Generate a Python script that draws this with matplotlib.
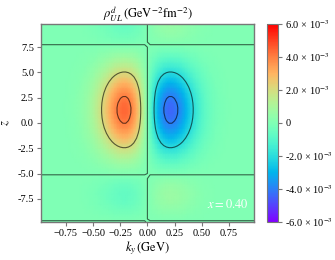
import matplotlib
matplotlib.use("Agg")
import matplotlib.pyplot as plt
import numpy as np
from matplotlib.ticker import FuncFormatter

plt.rcParams["font.family"] = ["Liberation Serif", "DejaVu Serif"]
plt.rcParams["mathtext.fontset"] = "stix"

# k_y grid (GeV), positive half; the profile is odd in k_y
ky_half = np.linspace(0.0, 1.0, 41)
ky_profile = [0.0, 0.193, 0.378, 0.548, 0.696, 0.817, 0.908, 0.968, 0.997, 0.996,
              0.970, 0.923, 0.858, 0.781, 0.697, 0.611, 0.526, 0.444, 0.369, 0.301,
              0.242, 0.191, 0.148, 0.114, 0.086, 0.063, 0.046, 0.033, 0.024, 0.016,
              0.011, 0.0075, 0.0051, 0.0034, 0.0021, 0.0014, 0.0009, 0.0006, 0.0003,
              0.0002, 0.0001]

# z grid and profile along z
z_vals = np.linspace(-10.0, 10.0, 41)
z_profile = [0.03, -0.015, -0.05, -0.085, -0.12, -0.14, -0.145, -0.13, -0.10, -0.05,
             0.017, 0.0815, 0.158, 0.244, 0.341, 0.444, 0.550, 0.656, 0.755, 0.844,
             0.916, 0.967, 0.995, 0.998, 0.975, 0.928, 0.860, 0.774, 0.676, 0.572,
             0.465, 0.361, 0.263, 0.174, 0.096, 0.029, -0.03, -0.07, -0.10, -0.12, -0.13]

peak = 4.4e-3
contour_levels = [-4e-3, -2e-3, 0.0, 2e-3, 4e-3]
cbar_ticks = [-6e-3, -4e-3, -2e-3, 0.0, 2e-3, 4e-3, 6e-3]
y_ticks = [-7.5, -5.0, -2.5, 0.0, 2.5, 5.0, 7.5]
x_label_text = "$x = 0.40$"

prof = np.array(ky_profile)
ky = np.concatenate([-ky_half[::-1], ky_half[1:]])
fk = np.concatenate([prof[::-1], -prof[1:]])
rho = peak * np.outer(np.array(z_profile), fk)
K, Z = np.meshgrid(ky, z_vals)

fig = plt.figure(figsize=(3.35, 2.6), dpi=100)
ax = fig.add_axes([0.122, 0.146, 0.636, 0.762])
cax = fig.add_axes([0.797, 0.146, 0.034, 0.762])

mesh = ax.pcolormesh(K, Z, rho, shading="gouraud", cmap="rainbow", vmin=-6e-3, vmax=6e-3)
ax.contour(K, Z, rho, levels=contour_levels, colors="k", linewidths=0.8,
           linestyles="solid", alpha=0.6)
ax.set_xlim(-0.98, 0.98)
ax.set_ylim(-9.8, 9.8)

ax.set_xticks([-0.75, -0.5, -0.25, 0.0, 0.25, 0.5, 0.75])
ax.set_yticks(y_ticks)
ax.set_yticklabels([f"{v:.1f}" for v in y_ticks])
ax.tick_params(labelsize=7.5, length=3, width=0.8, color="#777777", pad=2)
for s in ax.spines.values():
    s.set_color("#777777")
    s.set_linewidth(1.0)

ax.set_title(r"$\rho^{d}_{UL}\,(\mathrm{GeV}^{-2}\mathrm{fm}^{-2})$", fontsize=9, pad=3)
ax.set_xlabel(r"$k_y\,(\mathrm{GeV})$", fontsize=9, labelpad=1)
ax.set_ylabel(r"$z$", fontsize=9, labelpad=4)
ax.text(0.55, -8.1, x_label_text, color="white", fontsize=9, va="center")


def cbar_fmt(v, pos):
    if abs(v) < 1e-12:
        return "0"
    return f"{v * 1e3:.1f} × 10$^{{-3}}$"


cb = fig.colorbar(mesh, cax=cax, ticks=cbar_ticks, format=FuncFormatter(cbar_fmt))
cb.ax.tick_params(labelsize=7.5, length=3, width=0.8, color="#777777", pad=2)
cb.outline.set_edgecolor("#777777")

fig.savefig("out.png", dpi=100)
